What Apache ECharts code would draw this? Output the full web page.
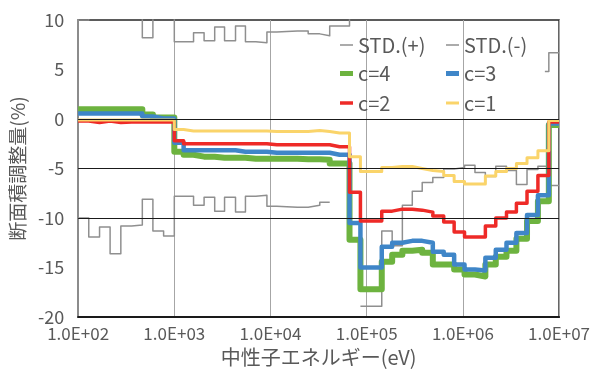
<!DOCTYPE html>
<html><head><meta charset="utf-8">
<script src="https://cdn.jsdelivr.net/npm/echarts@6/dist/echarts.min.js"></script>
<style>html,body{margin:0;padding:0;background:#fff}#c{width:593px;height:372px}</style>
</head><body><div id="c"></div>
<script>
// group boundaries (eV)
const edges = [100,129,167,215,278,360,465,599,774,
  1000,1250,1585,2040,2630,3330,4330,5490,7040,
  9180,11640,14760,19070,24650,32540,41260,52310,
  66310,86110,111800,143500,184100,235000,298000,377900,487100,632400,811700,
  1041000,1336000,1714000,2199000,2842000,3603000,4645000,6031000,7123000,7831000,10000000];

const stdPlus = [10.0,11.9,10.9,13.6,10.8,10.7,8.2,11.3,11.8,
  7.8,7.8,8.7,7.9,9.3,7.9,9.4,7.8,7.7,
  8.8,8.85,8.9,8.9,8.6,8.4,9.4,9.4,
  19.0,null,null,null,null,null,null,null,null,null,
  null,null,null,null,null,null,null,null,null,4.8,6.7];
const stdMinus = [-10.0,-11.9,-10.9,-13.6,-10.8,-10.7,-8.1,-11.3,-11.8,
  -7.8,-7.8,-8.7,-7.9,-9.3,-7.9,-9.4,-7.8,-7.7,
  -8.8,-8.85,-8.9,-8.9,-8.7,-8.4,null,null,
  null,-18.9,-18.9,-11.3,-12.8,-8.7,-7.3,-6.4,-5.9,-5.05,
  -4.9,-4.67,-5.4,-5.8,-4.77,-5.2,-6.6,-5.1,-4.77,-4.8,-6.7];
const c4 = [1.0,1.0,1.0,1.0,1.0,1.0,0.45,0.15,0.15,
  -3.3,-3.6,-3.8,-3.8,-3.9,-3.9,-3.9,-4.0,-4.0,
  -4.0,-4.0,-4.0,-4.05,-4.05,-4.1,-4.5,-4.5,
  -12.2,-17.2,-17.2,-14.4,-13.7,-13.3,-13.2,-13.5,-14.7,-14.7,
  -15.2,-15.7,-15.9,-14.7,-13.9,-13.3,-12.1,-10.3,-8.3,-8.3,-0.6];
const c3 = [0.55,0.55,0.55,0.55,0.55,0.55,0.25,0.05,0.05,
  -2.4,-3.15,-3.15,-3.15,-3.15,-3.15,-3.3,-3.3,-3.3,
  -3.4,-3.4,-3.4,-3.4,-3.4,-3.4,-3.6,-3.6,
  -10.5,-15.0,-15.0,-12.9,-12.5,-12.3,-12.3,-12.5,-13.4,-13.7,
  -14.7,-15.2,-15.3,-14.0,-13.2,-12.5,-11.5,-9.7,-7.7,-7.7,-0.45];
const c2 = [-0.2,-0.35,-0.2,-0.35,-0.3,-0.3,-0.3,-0.3,-0.3,
  -2.2,-2.5,-2.5,-2.5,-2.5,-2.5,-2.5,-2.5,-2.5,
  -2.6,-2.6,-2.6,-2.6,-2.6,-2.6,-2.8,-2.8,
  -7.4,-10.3,-10.3,-9.3,-9.1,-9.1,-9.2,-9.4,-9.8,-10.4,
  -11.4,-11.9,-11.9,-10.8,-10.0,-9.4,-8.5,-7.3,-5.7,-5.7,-0.3];
const c1 = [-0.1,-0.1,-0.1,-0.1,-0.1,-0.1,-0.1,-0.1,-0.1,
  -1.05,-1.2,-1.2,-1.2,-1.2,-1.2,-1.2,-1.2,-1.2,
  -1.25,-1.25,-1.25,-1.25,-1.15,-1.25,-1.4,-1.4,
  -3.8,-5.3,-5.3,-4.9,-4.8,-4.8,-5.0,-5.2,-5.3,-5.7,
  -6.3,-6.55,-6.55,-5.75,-5.3,-5.0,-4.5,-3.9,-3.2,-3.2,-0.15];

const seriesNames = ['STD.(+)','STD.(-)','c=4','c=3','c=2','c=1'];
const xTickLabels = ['1.0E+02','1.0E+03','1.0E+04','1.0E+05','1.0E+06','1.0E+07'];
const refLines = [0,-5,-10];

function steps(vals){
  const pts = [];
  for (let i = 0; i < vals.length; i++) {
    const v = vals[i];
    if (v === null) { pts.push([edges[i], null]); continue; }
    pts.push([edges[i], v]);
    pts.push([edges[i+1], v]);
  }
  return pts;
}

const FONT = 'Noto Sans CJK JP';
const TXT = '#595959';
const styles = [
  {color:'#8f8f8f', width:1.5, lw:1.5},
  {color:'#8f8f8f', width:1.5, lw:1.5},
  {color:'#6db33f', width:6, lw:5},
  {color:'#3f86c8', width:4.5, lw:5},
  {color:'#ee2a27', width:3.5, lw:3.5},
  {color:'#fad46a', width:3, lw:3}
];
const dataSets = [stdPlus, stdMinus, c4, c3, c2, c1];

const series = seriesNames.map((n, k) => ({
  name: n, type: 'line', data: steps(dataSets[k]),
  symbol: 'none', showSymbol: false, connectNulls: false, clip: true,
  color: styles[k].color,
  lineStyle: {color: styles[k].color, width: styles[k].width, join: 'round'},
  animation: false
}));
series[0].markLine = {
  silent: true, symbol: ['none','none'], label: {show: false},
  lineStyle: {color: '#1a1a1a', width: 1.2, type: 'solid'},
  data: refLines.map(v => ({yAxis: v})), animation: false
};

// legend laid out as 2 columns x 3 rows
const legendCols = [340, 446];
const legendRowCenters = [45, 73.5, 103];
const legendOrder = [[0,1],[2,3],[4,5]];
const legends = [];
legendOrder.forEach((row, r) => row.forEach((k, c) => {
  const s = styles[k];
  legends.push({
    data: [{name: seriesNames[k], icon: 'rect', itemStyle: {color: s.color}}],
    left: legendCols[c], top: legendRowCenters[r] - 12,
    itemWidth: 13, itemHeight: s.lw, selectedMode: false, padding: 0,
    textStyle: {fontSize: 20, color: TXT, fontFamily: FONT, lineHeight: 24}
  });
}));

const chart = echarts.init(document.getElementById('c'), null, {renderer: 'canvas'});
chart.setOption({
  animation: false,
  textStyle: {fontFamily: FONT},
  grid: {left: 76, right: 32, top: 20, bottom: 52, show: true, borderColor: '#262626', borderWidth: 1.5},
  legend: legends,
  xAxis: {
    type: 'log', logBase: 10, min: 100, max: 10000000,
    axisLine: {onZero: false, lineStyle: {color: '#1a1a1a', width: 2}},
    axisTick: {show: false},
    splitLine: {show: true, lineStyle: {color: '#a6a6a6', width: 1}},
    axisLabel: {formatter: v => xTickLabels[Math.round(Math.log10(v)) - 2], fontSize: 17, color: TXT, margin: 8, fontFamily: FONT},
    name: '中性子エネルギー(eV)', nameLocation: 'middle', nameGap: 26,
    nameTextStyle: {fontSize: 20, color: TXT, fontFamily: FONT}
  },
  yAxis: {
    type: 'value', min: -20, max: 10, interval: 5,
    axisLine: {show: true, lineStyle: {color: '#8c8c8c', width: 2}},
    axisTick: {show: false},
    splitLine: {show: false},
    axisLabel: {fontSize: 18, color: TXT, margin: 14, fontFamily: FONT},
    name: '断面積調整量(%)', nameLocation: 'middle', nameRotate: 90, nameGap: 47,
    nameTextStyle: {fontSize: 19, color: TXT, fontFamily: FONT}
  },
  series: series
});
</script>
</body></html>
